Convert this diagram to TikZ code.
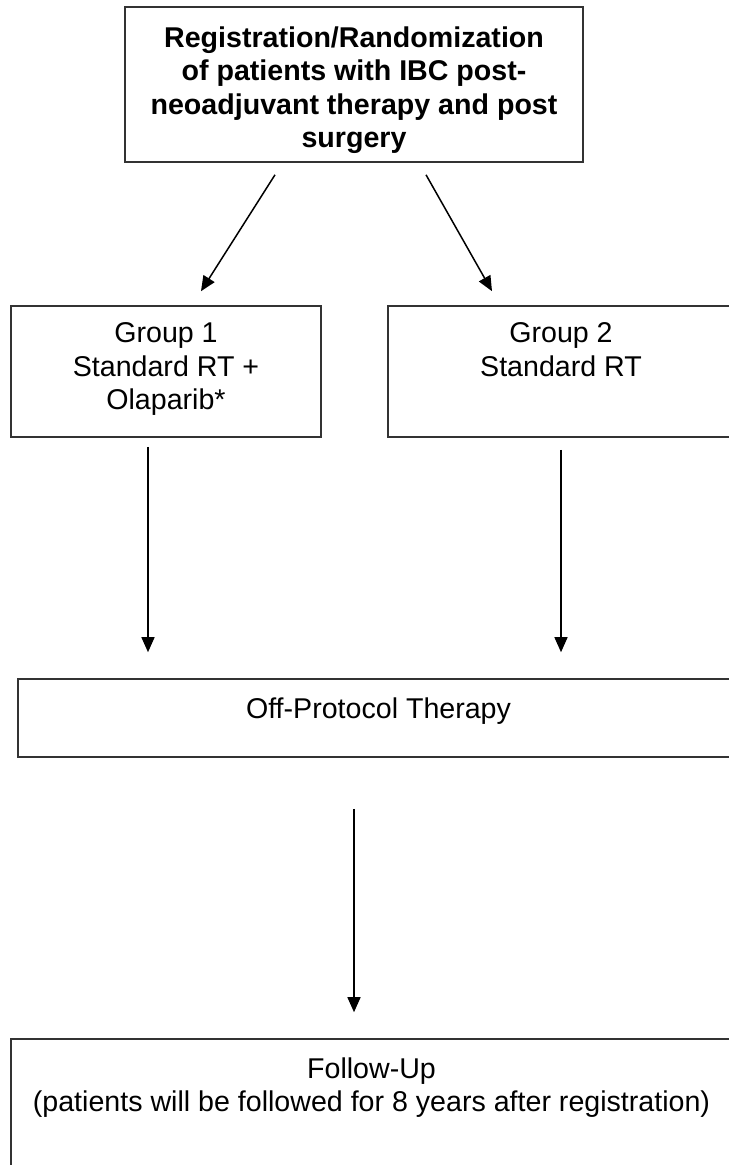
\documentclass[tikz,border=0pt]{standalone}
\usepackage{fontspec}
\setmainfont{Liberation Sans}
\usetikzlibrary{arrows.meta,calc}

\tikzstyle{block}=[rectangle,
    thick,
    inner sep=0pt,
    draw=black!80,
    font=\fontsize{14.3}{16.6}\selectfont]
\tikzstyle{line}=[draw, line width=0.75pt, -{Triangle[length=7.5pt,width=6.5pt]}]

\begin{document}
\begin{tikzpicture}[x=0.5pt,y=-0.5pt]
                \useasboundingbox (0,0) rectangle (728,1165);
                \node (reg) [block] at (354,84.5)
                {\begin{minipage}[t][77.5pt][t]{229pt}\centering\vspace*{10pt}\bfseries
                Registration/Randomization\\of patients with IBC post-\\neoadjuvant therapy and post\\surgery\end{minipage}};
                \node (g1) [block] at (166,371.5)
                {\begin{minipage}[t][65.5pt][t]{155pt}\centering\vspace*{8.5pt}Group 1\\Standard RT +\\Olaparib*\end{minipage}};
                \node (g2) [block] at (561,371.5)
                {\begin{minipage}[t][65.5pt][t]{173pt}\centering\vspace*{8.5pt}Group 2\\Standard RT\end{minipage}};
                \node (off) [block] at (378.5,718)
                {\begin{minipage}[t][39pt][t]{360.5pt}\centering\vspace*{9.5pt}Off-Protocol Therapy\end{minipage}};
                \node (follow) [block] at (371.5,1119)
                {\begin{minipage}[t][80pt][t]{360.5pt}\centering\vspace*{9.5pt}Follow-Up\\(patients will be followed for 8 years after registration)\end{minipage}};
                \draw [line] ($(reg.south)+(-79,12)$) -- ($(g1.north)+(35,-14)$);
                \draw [line] ($(reg.south)+(72,12)$) -- ($(g2.north)+(-69,-14)$);
                \draw [line] ($(g1.south)+(-18,9)$) -- ($(off.north)+(-230.5,-26)$);
                \draw [line] ($(g2.south)+(0,12)$) -- ($(off.north)+(182.5,-26)$);
                \draw [line] ($(off.south)+(-24.5,51)$) -- ($(follow.north)+(-17.5,-26)$);
            \end{tikzpicture}
\end{document}
